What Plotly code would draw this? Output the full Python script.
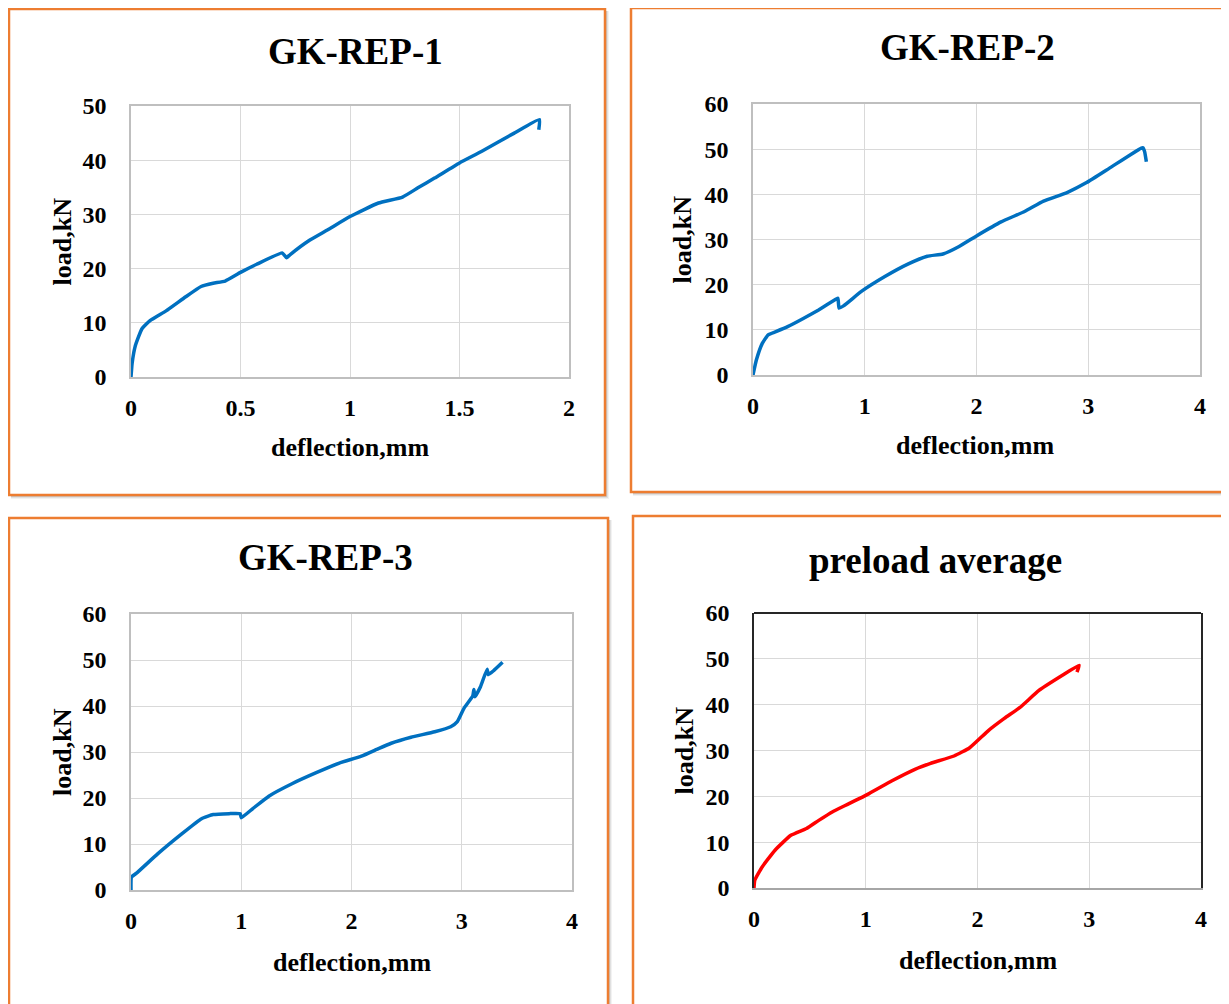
import plotly.graph_objects as go

# page body has an 8px margin; the figure is sized so it fills the rest of the window
OFF = 8
W, H = 1229 - OFF, 1004 - OFF

# ---------------- data ----------------
titles = ["GK-REP-1", "GK-REP-2", "GK-REP-3", "preload average"]
x_label = "deflection,mm"
y_label = "load,kN"

x1 = [0, 0.005, 0.02, 0.05, 0.087, 0.16, 0.25, 0.32, 0.375, 0.43, 0.5, 0.574, 0.69, 0.70, 0.71,
      0.727, 0.81, 0.9, 1.0, 1.13, 1.24, 1.31, 1.386, 1.5, 1.6, 1.75, 1.865, 1.862]
y1 = [0, 2.5, 5.8, 8.9, 10.4, 12.2, 14.8, 16.7, 17.3, 17.7, 19.3, 20.8, 22.9, 22.5, 22.0,
      22.6, 25.1, 27.2, 29.6, 32.1, 33.2, 34.9, 36.7, 39.5, 41.6, 45.0, 47.5, 45.6]

x2 = [0, 0.03, 0.083, 0.136, 0.205, 0.31, 0.45, 0.587, 0.744, 0.76, 0.77, 0.81, 0.97, 1.18, 1.39,
      1.56, 1.70, 1.84, 2.0, 2.22, 2.43, 2.60, 2.81, 2.985, 3.19, 3.47, 3.49, 3.505, 3.52]
y2 = [0, 3.3, 7.0, 8.9, 9.6, 10.7, 12.5, 14.4, 16.8, 17.0, 14.8, 15.3, 18.5, 21.8, 24.6,
      26.3, 26.8, 28.4, 30.8, 33.9, 36.2, 38.5, 40.4, 42.6, 45.8, 50.2, 50.3, 49.4, 47.2]

x3 = [0, 0.004, 0.047, 0.244, 0.46, 0.64, 0.746, 0.89, 0.99, 1.0, 1.105, 1.25, 1.46, 1.68, 1.89,
      2.09, 2.25, 2.36, 2.54, 2.755, 2.90, 2.96, 3.02, 3.10, 3.11, 3.12, 3.17, 3.23, 3.24, 3.29, 3.37]
y3 = [0, 2.8, 3.6, 7.9, 12.2, 15.5, 16.4, 16.6, 16.6, 15.7, 17.7, 20.4, 23.1, 25.5, 27.6,
      29.1, 30.8, 31.9, 33.2, 34.4, 35.5, 36.6, 39.5, 42.2, 43.6, 42.0, 44.2, 48.0, 46.8, 47.7, 49.5]

x4 = [0, 0.007, 0.073, 0.19, 0.33, 0.47, 0.576, 0.70, 0.85, 1.03, 1.235, 1.44, 1.58, 1.79, 1.93,
      2.10, 2.24, 2.38, 2.55, 2.76, 2.91, 2.89]
y4 = [0, 1.7, 4.6, 8.3, 11.5, 13.0, 14.7, 16.6, 18.4, 20.6, 23.4, 25.9, 27.2, 28.8, 30.6,
      34.4, 37.0, 39.4, 43.1, 46.4, 48.6, 47.1]

x_ranges = [[0, 2], [0, 4], [0, 4], [0, 4]]
x_dticks = [0.5, 1, 1, 1]
y_ranges = [[0, 50], [0, 60], [0, 60], [0, 60]]
y_dtick = 10
line_colors = ["#0070C0", "#0070C0", "#0070C0", "#FF0000"]
series = [(x1, y1), (x2, y2), (x3, y3), (x4, y4)]

# ---------------- layout geometry (window pixels) ----------------
plots = [  # x0, x1, ytop, ybottom
    (131, 569, 106, 377),
    (753, 1200, 104, 375),
    (131, 572, 614, 890),
    (754, 1201, 613, 888),
]
frames = [  # left, top, right, bottom
    (9, 9, 605, 495),
    (631, 8, 1240, 492),
    (9, 518, 608, 1015),
    (633, 516, 1240, 1015),
]
title_pos = [(355, 52), (968, 47), (325, 557), (935, 560)]
xtitle_pos = [(350, 448), (975, 446), (352, 962), (978, 960)]
ytitle_x = [62, 682, 62, 684]

FONT = "Liberation Serif, Times New Roman, serif"


def px(x):
    return (x - OFF) / W


def py(y):
    return 1 - (y - OFF) / H


fig = go.Figure()
shapes = []
annotations = []

for i in range(4):
    l, t, r, b = frames[i]
    # soft shadow
    for k, c in enumerate(["rgba(0,0,0,0.05)", "rgba(0,0,0,0.07)", "rgba(0,0,0,0.10)"]):
        off = 4 - k
        shapes.append(dict(type="rect", xref="paper", yref="paper",
                           x0=px(l + 2), x1=px(r + off), y0=py(b + off), y1=py(t + 2),
                           line=dict(width=0), fillcolor=c, layer="below"))
    shapes.append(dict(type="rect", xref="paper", yref="paper",
                       x0=px(l), x1=px(r), y0=py(b), y1=py(t),
                       line=dict(color="#ED7D31", width=2.5), fillcolor="white", layer="below"))

for i in range(4):
    n = "" if i == 0 else str(i + 1)
    x0, x1_, yt, yb = plots[i]
    xs, ys = series[i]
    fig.add_trace(go.Scatter(x=xs, y=ys, mode="lines", xaxis="x" + n, yaxis="y" + n,
                             line=dict(color=line_colors[i], width=3.5, shape="spline", smoothing=0.4),
                             showlegend=False, hoverinfo="x+y"))
    fig.update_layout(**{
        "xaxis" + n: dict(domain=[px(x0), px(x1_)], anchor="y" + n, range=x_ranges[i],
                          dtick=x_dticks[i], tick0=0, showgrid=True, gridcolor="#D9D9D9", gridwidth=1.3,
                          showline=True, linecolor="#BFBFBF" if i < 3 else "#A6A6A6", linewidth=1.5,
                          mirror=(i < 3), zeroline=False, automargin=False,
                          ticks="outside", ticklen=8, tickcolor="rgba(0,0,0,0)",
                          tickfont=dict(family=FONT, size=24, color="black", weight="bold"),
                          fixedrange=True),
        "yaxis" + n: dict(domain=[py(yb), py(yt)], anchor="x" + n, range=y_ranges[i],
                          dtick=y_dtick, tick0=0, showgrid=True, gridcolor="#D9D9D9", gridwidth=1.3,
                          showline=True, linecolor="#BFBFBF" if i < 3 else "#262626", linewidth=1.5,
                          mirror=True, zeroline=False, automargin=False,
                          ticks="outside", ticklen=18, tickcolor="rgba(0,0,0,0)",
                          tickfont=dict(family=FONT, size=24, color="black", weight="bold"),
                          fixedrange=True),
    })
    if i == 3:
        shapes.append(dict(type="line", xref="paper", yref="paper",
                           x0=px(x0), x1=px(x1_), y0=py(yt), y1=py(yt),
                           line=dict(color="#262626", width=1.8)))
    # chart title
    tx, ty = title_pos[i]
    annotations.append(dict(text=titles[i], x=px(tx), y=py(ty), xref="paper", yref="paper",
                            xanchor="center", yanchor="middle", showarrow=False,
                            font=dict(family=FONT, size=37, color="black", weight="bold")))
    # axis titles
    ax_, ay_ = xtitle_pos[i]
    annotations.append(dict(text=x_label, x=px(ax_), y=py(ay_), xref="paper", yref="paper",
                            xanchor="center", yanchor="middle", showarrow=False,
                            font=dict(family=FONT, size=26, color="black", weight="bold")))
    annotations.append(dict(text=y_label, x=px(ytitle_x[i]), y=py((yt + yb) / 2), xref="paper",
                            yref="paper", xanchor="center", yanchor="middle", showarrow=False,
                            textangle=-90,
                            font=dict(family=FONT, size=26, color="black", weight="bold")))

fig.update_layout(width=W, height=H, margin=dict(l=0, r=0, t=0, b=0),
                  paper_bgcolor="white", plot_bgcolor="rgba(0,0,0,0)",
                  shapes=shapes, annotations=annotations, showlegend=False)

fig.write_html("out.html")
